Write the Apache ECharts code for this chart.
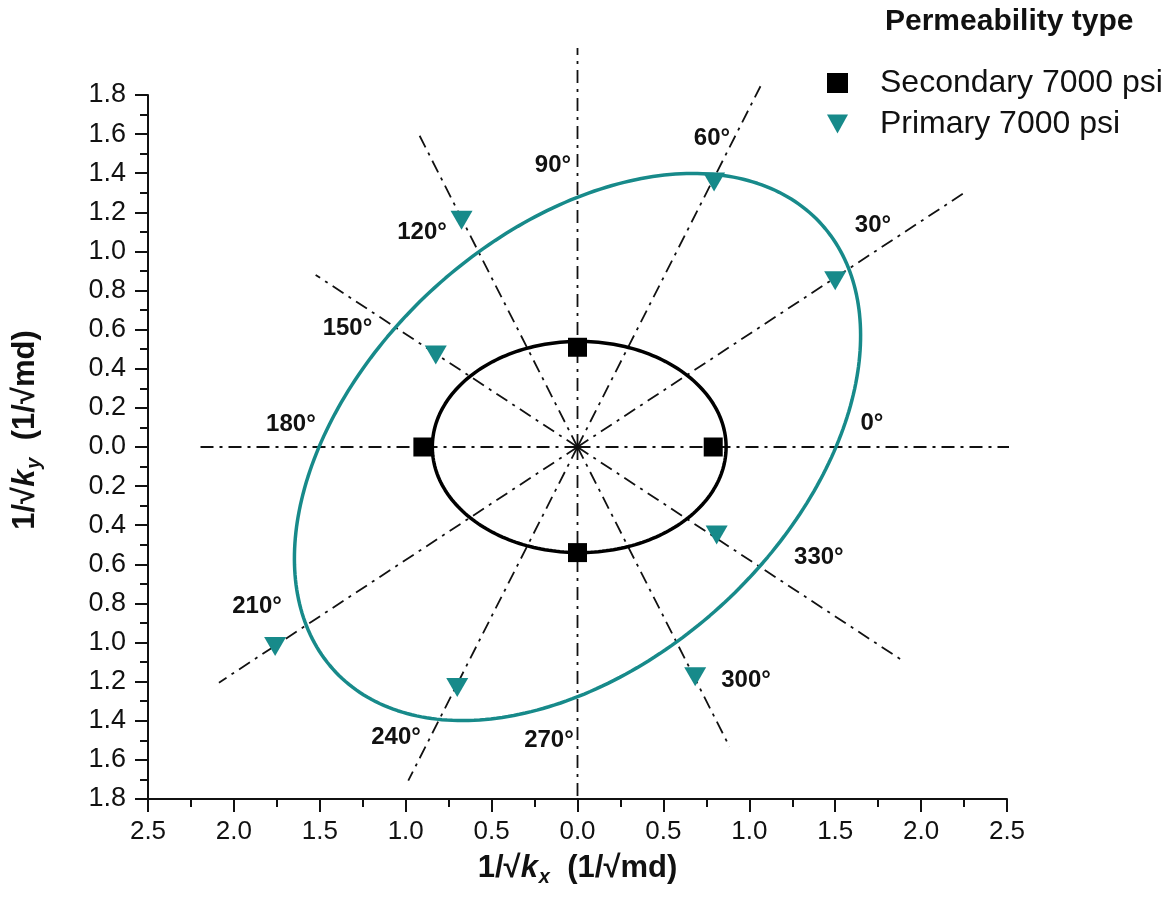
<!DOCTYPE html>
<html>
<head>
<meta charset="utf-8">
<script src="https://cdn.jsdelivr.net/npm/echarts@6/dist/echarts.min.js"></script>
<style>
  html, body { margin: 0; padding: 0; background: #ffffff; }
  #chart { width: 1171px; height: 898px; }
</style>
</head>
<body>
<div id="chart"></div>
<script>
// Secondary permeability, 7000 psi (squares) at 0°, 90°, 180°, 270°
const secondaryX = [0.79, 0.0, -0.90, 0.0];
const secondaryY = [0.0, 0.51, 0.0, -0.54];

// Primary permeability, 7000 psi (down triangles) at 30°, 60°, 120°, 150°, 210°, 240°, 300°, 330°
const primaryX = [1.50, 0.795, -0.675, -0.825, -1.76, -0.70, 0.685, 0.81];
const primaryY = [0.85, 1.355, 1.16, 0.47, -1.02, -1.23, -1.175, -0.45];

// Fitted permeability ellipses: semi-axis along tilt, semi-axis across, tilt (deg), centre x, centre y
const secondaryEllipse = [0.855, 0.54, 0, 0.01, 0];
const primaryEllipse = [1.83, 1.15, 34, 0, 0];

// Measurement directions drawn as rays from the origin
const rayAngles = [0, 30, 60, 90, 120, 150, 180, 210, 240, 270, 300, 330];
const rayLengths = [2.55, 2.62, 2.13, 2.04, 1.85, 1.76, 2.20, 2.41, 1.97, 1.80, 1.77, 2.17];

// Direction labels and where they sit
const angleLabels = ['0°', '30°', '60°', '90°', '120°', '150°', '180°', '210°', '240°', '270°', '300°', '330°'];
const angleLabelX = [1.714, 1.720, 0.783, -0.143, -0.905, -1.339, -1.668, -1.865, -1.056, -0.166, 0.981, 1.405];
const angleLabelY = [0.123, 1.135, 1.580, 1.442, 1.099, 0.608, 0.118, -0.813, -1.483, -1.498, -1.191, -0.562];

// Axis ranges and tick steps
const xRange = [-2.5, 2.5], xStep = 0.5;
const yRange = [-1.8, 1.8], yStep = 0.2;

const TEAL = '#178a8a';
const INK = '#111111';
const FONT = '"Liberation Sans", Arial, sans-serif';
const NARROW = '"Liberation Sans Narrow", "Arial Narrow", "Liberation Sans", sans-serif';

function ellipseCurve(e, n) {
  const [a, b, tilt, cx, cy] = e;
  const th = tilt * Math.PI / 180;
  const pts = [];
  for (let i = 0; i <= n; i++) {
    const t = 2 * Math.PI * i / n;
    const u = a * Math.cos(t), v = b * Math.sin(t);
    pts.push([cx + u * Math.cos(th) - v * Math.sin(th), cy + u * Math.sin(th) + v * Math.cos(th)]);
  }
  return pts;
}

const dashDot = [13, 6, 3, 6];

const raySeries = rayAngles.map((ang, i) => {
  const r = rayLengths[i];
  const rad = ang * Math.PI / 180;
  return {
    type: 'line',
    clip: false,
    silent: true,
    showSymbol: false,
    symbol: 'none',
    z: 1,
    lineStyle: { color: INK, width: 1.8, type: dashDot },
    data: [[0, 0], [r * Math.cos(rad), r * Math.sin(rad)]]
  };
});

const absLabel = v => Math.abs(v).toFixed(1);

function titleRich(size) {
  return {
    n: { fontFamily: FONT, fontSize: size, fontWeight: 'bold', color: INK },
    k: { fontFamily: FONT, fontSize: size, fontWeight: 'bold', fontStyle: 'italic', color: INK },
    s: { fontFamily: FONT, fontSize: Math.round(size * 0.66), fontWeight: 'bold', fontStyle: 'italic', color: INK, padding: [18, 0, 0, 1] }
  };
}

const option = {
  animation: false,
  backgroundColor: '#ffffff',
  title: {
    text: 'Permeability type',
    left: 880,
    top: 2,
    textStyle: { fontFamily: FONT, fontSize: 30, fontWeight: 'bold', color: INK }
  },
  legend: {
    orient: 'vertical',
    left: 822,
    top: 62,
    itemWidth: 21,
    itemHeight: 20,
    itemGap: 9,
    textStyle: { fontFamily: FONT, fontSize: 32, color: INK, padding: [0, 0, 0, 27] },
    data: [
      { name: 'Secondary 7000 psi', icon: 'rect' },
      { name: 'Primary 7000 psi', icon: 'path://M0,0L22,0L11,20Z' }
    ]
  },
  grid: { left: 148, right: 164, top: 95, bottom: 99 },
  xAxis: {
    type: 'value',
    min: xRange[0], max: xRange[1], interval: xStep,
    name: '{n|1/√}{k|k}{s|x}{n|  (1/√md)}',
    nameLocation: 'middle',
    nameGap: 50,
    nameTextStyle: { rich: titleRich(31) },
    axisLine: { onZero: false, lineStyle: { color: INK, width: 2 } },
    axisTick: { length: 13, lineStyle: { color: INK, width: 2 } },
    minorTick: { show: true, splitNumber: 2, length: 8, lineStyle: { color: INK, width: 2 } },
    splitLine: { show: false },
    axisLabel: { formatter: absLabel, fontFamily: NARROW, fontSize: 26, color: INK, margin: 20 }
  },
  yAxis: {
    type: 'value',
    min: yRange[0], max: yRange[1], interval: yStep,
    name: '{n|1/√}{k|k}{s|y}{n|  (1/√md)}',
    nameLocation: 'middle',
    nameRotate: 90,
    nameGap: 104,
    nameTextStyle: { padding: [0, 0, 0, 34], rich: titleRich(31) },
    axisLine: { onZero: false, lineStyle: { color: INK, width: 2 } },
    axisTick: { length: 13, lineStyle: { color: INK, width: 2 } },
    minorTick: { show: true, splitNumber: 2, length: 8, lineStyle: { color: INK, width: 2 } },
    splitLine: { show: false },
    axisLabel: { formatter: absLabel, fontFamily: FONT, fontSize: 27, color: INK, margin: 22 }
  },
  series: [
    ...raySeries,
    {
      type: 'line',
      name: 'secondary fit',
      clip: false,
      silent: true,
      showSymbol: false,
      symbol: 'none',
      z: 3,
      lineStyle: { color: '#000000', width: 3.5 },
      data: ellipseCurve(secondaryEllipse, 240)
    },
    {
      type: 'line',
      name: 'primary fit',
      clip: false,
      silent: true,
      showSymbol: false,
      symbol: 'none',
      z: 3,
      lineStyle: { color: TEAL, width: 3.5 },
      data: ellipseCurve(primaryEllipse, 300)
    },
    {
      type: 'scatter',
      name: 'Secondary 7000 psi',
      symbol: 'rect',
      symbolSize: 19,
      z: 5,
      itemStyle: { color: '#000000', opacity: 1 },
      data: secondaryX.map((x, i) => [x, secondaryY[i]])
    },
    {
      type: 'scatter',
      name: 'Primary 7000 psi',
      symbol: 'triangle',
      symbolRotate: 180,
      symbolSize: [22, 19],
      z: 5,
      itemStyle: { color: TEAL, opacity: 1 },
      data: primaryX.map((x, i) => [x, primaryY[i]])
    },
    {
      type: 'scatter',
      name: 'direction labels',
      symbolSize: 0,
      silent: true,
      z: 6,
      itemStyle: { color: INK, opacity: 1 },
      label: {
        show: true,
        position: 'inside',
        formatter: p => p.name,
        fontFamily: FONT,
        fontSize: 24,
        fontWeight: 'bold',
        color: INK,
        opacity: 1,
        textBorderWidth: 0,
        textBorderColor: 'transparent'
      },
      data: angleLabels.map((t, i) => ({ name: t, value: [angleLabelX[i], angleLabelY[i]] }))
    }
  ]
};

const chart = echarts.init(document.getElementById('chart'), null, { renderer: 'canvas' });
chart.setOption(option);
</script>
</body>
</html>
